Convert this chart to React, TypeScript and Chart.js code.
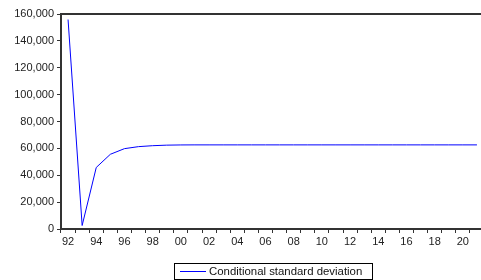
import React, { useEffect, useRef } from "react";
import { Chart, registerables } from "chart.js";

Chart.register(...registerables);

const years: string[] = [];
for (let y = 1992; y <= 2021; y++) years.push(String(y));

const sdValues = [
  155900, 2600, 45800, 55600, 59800, 61300, 62000, 62400, 62550, 62600,
  62600, 62600, 62600, 62600, 62600, 62600, 62600, 62600, 62600, 62600,
  62600, 62600, 62600, 62600, 62600, 62600, 62600, 62600, 62600, 62600,
];

const yTicks = [0, 20000, 40000, 60000, 80000, 100000, 120000, 140000, 160000];
const seriesLabel = "Conditional standard deviation";

const FONT = "'Liberation Sans', Arial, sans-serif";
const AXIS = "#333333";
const LINE = "#0000ff";

export default function App() {
  const ref = useRef<HTMLCanvasElement | null>(null);

  useEffect(() => {
    if (!ref.current) return;
    const framePlugin = {
      id: "frame",
      afterDraw(chart: any) {
        const ctx = chart.ctx;
        const a = chart.chartArea;
        ctx.save();
        // top frame line
        ctx.strokeStyle = AXIS;
        ctx.lineWidth = 2;
        ctx.beginPath();
        ctx.moveTo(a.left, a.top);
        ctx.lineTo(a.right + 2, a.top);
        ctx.stroke();
        // legend
        ctx.font = "11.4px " + FONT;
        const label = chart.data.datasets[0].label;
        const tw = ctx.measureText(label).width;
        const w = Math.round(6 + 26 + 3 + tw + 10);
        const cx = (a.left + a.right) / 2;
        const left = Math.round(cx - w / 2);
        const top = a.bottom + 34;
        const h = 16;
        ctx.lineWidth = 1;
        ctx.strokeStyle = "#000";
        ctx.strokeRect(left + 0.5, top + 0.5, w, h);
        const my = top + h / 2 + 0.5;
        ctx.strokeStyle = LINE;
        ctx.beginPath();
        ctx.moveTo(left + 6, my);
        ctx.lineTo(left + 32, my);
        ctx.stroke();
        ctx.fillStyle = "#111";
        ctx.textBaseline = "middle";
        ctx.textAlign = "left";
        ctx.fillText(label, left + 35, my);
        ctx.restore();
      },
    };

    const chart = new Chart(ref.current, {
      type: "line",
      data: {
        labels: years,
        datasets: [
          {
            label: seriesLabel,
            data: sdValues,
            borderColor: LINE,
            backgroundColor: LINE,
            borderWidth: 1,
            pointRadius: 0,
            tension: 0,
            fill: false,
          },
        ],
      },
      options: {
        animation: false,
        responsive: false,
        layout: { padding: { top: 14, left: 0, right: 0, bottom: 31 } },
        plugins: {
          tooltip: { enabled: false },
          legend: { display: false },
        },
        scales: {
          x: {
            type: "category",
            offset: true,
            border: { color: AXIS, width: 2 },
            grid: {
              offset: true,
              drawOnChartArea: false,
              drawTicks: true,
              tickLength: 4,
              color: AXIS,
              lineWidth: 1,
            },
            ticks: {
              autoSkip: false,
              maxRotation: 0,
              minRotation: 0,
              padding: 2,
              color: "#222",
              font: { family: FONT, size: 11 },
              callback: (_v: any, i: number) => {
                const y = parseInt(years[i], 10);
                return y % 2 === 0 ? String(y % 100).padStart(2, "0") : "";
              },
            },
            afterFit: (s: any) => {
              s.height = 20;
            },
          },
          y: {
            min: 0,
            max: 160000,
            border: { color: AXIS, width: 2 },
            grid: {
              drawOnChartArea: false,
              drawTicks: true,
              tickLength: 4,
              color: AXIS,
            },
            afterBuildTicks: (s: any) => {
              s.ticks = yTicks.map((v) => ({ value: v }));
            },
            ticks: {
              padding: 3,
              color: "#222",
              font: { family: FONT, size: 11 },
              callback: (v: any) => Number(v).toLocaleString("en-US"),
            },
            afterFit: (s: any) => {
              s.width = 61;
            },
          },
        },
      },
      plugins: [framePlugin],
    });
    return () => chart.destroy();
  }, []);

  return (
    <div style={{ position: "absolute", left: 0, top: 0, width: 481, height: 280, overflow: "hidden", background: "#fff" }}>
      <canvas ref={ref} width={484} height={280} style={{ display: "block" }} />
    </div>
  );
}
